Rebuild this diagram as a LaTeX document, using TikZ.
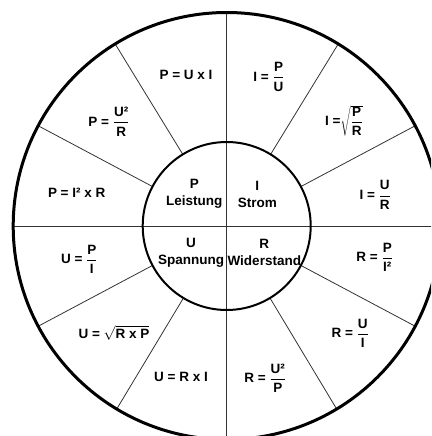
\documentclass[tikz,border=0pt]{standalone}
\usepackage{fontspec}
\setmainfont{Liberation Sans}
\newcommand\myfrm[2]{\displaystyle{\mbox{#1}\above 0.9pt\mbox{#2}}}
\newcommand\myfr[2]{$\myfrm{#1}{#2}$}
\begin{document}
\begin{tikzpicture}[x=1pt,y=-1pt,
  lbl/.style={text=black,font=\bfseries\fontsize{13.5}{17}\selectfont,inner sep=0pt},
  ctr/.style={lbl,align=center},
  thinline/.style={draw=black!80,line width=0.8pt},
  outerring/.style={draw=black,line width=3pt},
  innerring/.style={draw=black,line width=2pt}]
\useasboundingbox (0,0) rectangle (431,436);
\clip (0,0) rectangle (431,436);
\coordinate (c) at (226.7,226);
% axes
\draw[thinline] (c |- 0,12.5) -- (c |- 0,440);
\draw[thinline] (13,226) -- (440,226);
% radial lines
\foreach \a in {28,59,121,152,208,238.5,301.5,332}
  \draw[thinline,shift={(c)}] (\a:84) -- (\a:213);
% rings
\draw[outerring] (c) circle[radius=213.5pt];
\draw[innerring] (c) circle[radius=84pt];
% centre labels
\node[ctr] (P) at (194.3,194) {P\\Leistung};
\node[ctr] (I) at (257.3,194) {I\\Strom};
\node[ctr] (U) at (191,252.5) {U\\Spannung};
\node[ctr] (R) at (264.3,252.5) {R\\Widerstand};
% formulas
\node[lbl] (f1) at (186,75) {P = U x I};
\node[lbl] (f2) at (269,77) {I = \myfr{P}{U}};
\node[lbl] (f3) at (109,121.7) {P = \myfr{U²}{R}};
\node[lbl] (f4) at (344,120.7) {I =$\sqrt{\myfrm{P}{R}}$};
\node[lbl] (f5) at (76.7,192.3) {P = I² x R};
\node[lbl] (f6) at (375.3,195) {I = \myfr{U}{R}};
\node[lbl] (f7) at (79.3,259.3) {U = \myfr{P}{I}};
\node[lbl] (f8) at (374.7,257.3) {R = \myfr{P}{I²}};
\node[lbl] (f9) at (114,333.3) {U = $\sqrt{\mbox{R x P}}$};
\node[lbl] (f10) at (350.3,333.3) {R = \myfr{U}{I}};
\node[lbl] (f11) at (181,376.7) {U = R x I};
\node[lbl] (f12) at (265.3,378.3) {R = \myfr{U²}{P}};
\end{tikzpicture}
\end{document}
